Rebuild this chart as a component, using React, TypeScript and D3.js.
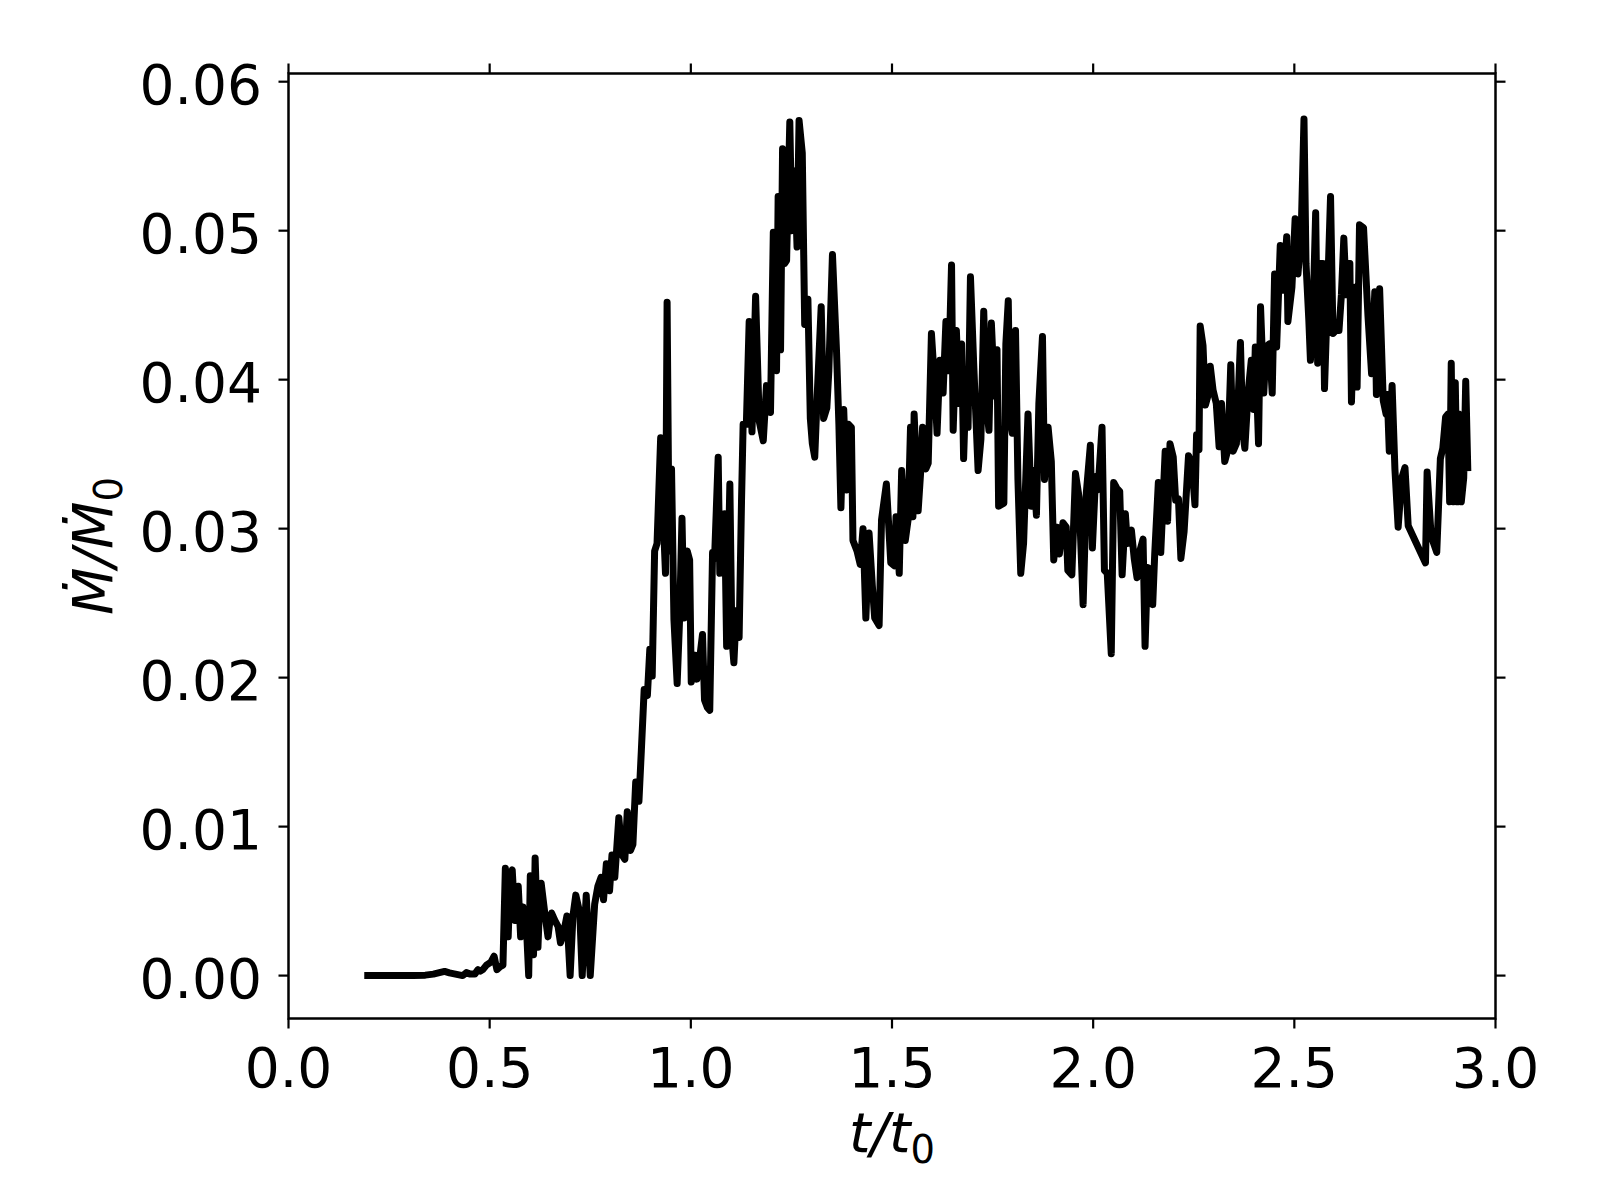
import React from "react";
import * as d3 from "d3";

// time t/t0
const T: number[] = [
  0.197, 0.22, 0.25, 0.28, 0.31, 0.34, 0.36, 0.375, 0.388, 0.40, 0.415, 0.433, 0.442, 0.452, 0.463, 0.471,
  0.477, 0.483, 0.492, 0.503, 0.511, 0.518, 0.526, 0.533, 0.539, 0.546, 0.551, 0.556, 0.563, 0.567, 0.571,
  0.577, 0.583, 0.592, 0.597, 0.601, 0.605, 0.609, 0.613, 0.620, 0.624, 0.628, 0.637, 0.645, 0.650, 0.654,
  0.662, 0.670, 0.676, 0.684, 0.692, 0.700, 0.707, 0.714, 0.724, 0.730, 0.740, 0.750, 0.761, 0.769, 0.777,
  0.783, 0.790, 0.798, 0.804, 0.811, 0.821, 0.829, 0.836, 0.842, 0.850, 0.856, 0.863, 0.871, 0.877, 0.884,
  0.892, 0.898, 0.904, 0.910, 0.916, 0.925, 0.931, 0.937, 0.941, 0.946, 0.952, 0.958, 0.966, 0.972, 0.978,
  0.983, 0.991, 0.997, 1.001, 1.010, 1.015, 1.022, 1.029, 1.034, 1.041, 1.047, 1.054, 1.059, 1.068, 1.072,
  1.080, 1.084, 1.089, 1.097, 1.102, 1.107, 1.113, 1.120, 1.126, 1.130, 1.138, 1.145, 1.152, 1.161, 1.170,
  1.180, 1.188, 1.198, 1.205, 1.213, 1.217, 1.223, 1.228, 1.233, 1.238, 1.246, 1.251, 1.258, 1.264, 1.269,
  1.277, 1.283, 1.291, 1.297, 1.302, 1.308, 1.314, 1.324, 1.330, 1.338, 1.343, 1.352, 1.362, 1.368, 1.373,
  1.380, 1.387, 1.392, 1.399, 1.403, 1.413, 1.421, 1.428, 1.435, 1.443, 1.451, 1.457, 1.468, 1.474, 1.486,
  1.497, 1.506, 1.510, 1.518, 1.524, 1.533, 1.540, 1.546, 1.552, 1.555, 1.565, 1.571, 1.576, 1.584, 1.590,
  1.598, 1.606, 1.612, 1.619, 1.627, 1.634, 1.641, 1.648, 1.652, 1.660, 1.667, 1.673, 1.678, 1.685, 1.689,
  1.695, 1.703, 1.714, 1.721, 1.728, 1.735, 1.741, 1.747, 1.755, 1.761, 1.765, 1.778, 1.783, 1.789, 1.793,
  1.799, 1.807, 1.813, 1.820, 1.827, 1.838, 1.846, 1.852, 1.859, 1.865, 1.874, 1.879, 1.888, 1.896, 1.902,
  1.910, 1.916, 1.925, 1.933, 1.937, 1.947, 1.956, 1.965, 1.975, 1.983, 1.993, 1.998, 2.006, 2.012, 2.022,
  2.028, 2.035, 2.045, 2.051, 2.059, 2.066, 2.072, 2.080, 2.085, 2.095, 2.102, 2.109, 2.116, 2.124, 2.129,
  2.135, 2.143, 2.148, 2.153, 2.162, 2.168, 2.179, 2.185, 2.191, 2.199, 2.205, 2.212, 2.218, 2.226, 2.237,
  2.245, 2.253, 2.257, 2.263, 2.266, 2.273, 2.279, 2.285, 2.291, 2.298, 2.306, 2.313, 2.319, 2.327, 2.335,
  2.342, 2.348, 2.356, 2.366, 2.372, 2.377, 2.385, 2.393, 2.399, 2.403, 2.411, 2.416, 2.424, 2.430, 2.438,
  2.445, 2.451, 2.456, 2.465, 2.473, 2.481, 2.484, 2.494, 2.502, 2.509, 2.517, 2.524, 2.529, 2.536, 2.540,
  2.546, 2.553, 2.558, 2.564, 2.571, 2.575, 2.582, 2.590, 2.596, 2.603, 2.611, 2.617, 2.623, 2.629, 2.638,
  2.642, 2.650, 2.656, 2.662, 2.672, 2.683, 2.692, 2.700, 2.704, 2.712, 2.721, 2.728, 2.731, 2.736, 2.743,
  2.750, 2.758, 2.767, 2.775, 2.783, 2.826, 2.830, 2.840, 2.854, 2.863, 2.869, 2.876, 2.882, 2.886, 2.890,
  2.894, 2.900, 2.905, 2.909, 2.915, 2.921, 2.926, 2.931,
];

// accretion rate Mdot/Mdot0
const MDOT: number[] = [
  0, 0, 0, 0, 0, 0.00003, 0.0001, 0.0002, 0.00028, 0.00018, 0.0001, 0.0, 0.0002, 0.0001, 0.0001, 0.0004,
  0.0003, 0.0004, 0.0007, 0.0009, 0.0013, 0.0004, 0.0006, 0.0007, 0.0072, 0.0026, 0.0066, 0.0071, 0.0037, 0.0052, 0.006,
  0.0026, 0.0046, 0.0029, 0.0, 0.0067, 0.004, 0.0014, 0.0079, 0.0019, 0.0048, 0.0062, 0.0042, 0.0026, 0.0037, 0.0042,
  0.0037, 0.0033, 0.0022, 0.0029, 0.004, 0.0, 0.004, 0.0054, 0.0042, 0.0, 0.0054, 0.0, 0.0048, 0.006, 0.0066,
  0.0051, 0.0075, 0.0057, 0.0081, 0.0066, 0.0106, 0.0081, 0.0078, 0.011, 0.0084, 0.0088, 0.013, 0.0117, 0.0151, 0.0192,
  0.0188, 0.0219, 0.0201, 0.0285, 0.029, 0.0361, 0.031, 0.027, 0.0452, 0.0285, 0.034, 0.0239, 0.0196, 0.0239, 0.0307,
  0.024, 0.0285, 0.0279, 0.0197, 0.0215, 0.0199, 0.0213, 0.0229, 0.0185, 0.018, 0.0178, 0.0284, 0.028, 0.0348, 0.027,
  0.028, 0.031, 0.0221, 0.033, 0.0227, 0.021, 0.0245, 0.0227, 0.0319, 0.037, 0.037, 0.0439, 0.0365, 0.0456, 0.0372,
  0.0359, 0.0396, 0.0378, 0.0499, 0.0406, 0.0523, 0.042, 0.0555, 0.0478, 0.048, 0.0573, 0.05, 0.054, 0.0489, 0.0574,
  0.0552, 0.0437, 0.0454, 0.0374, 0.0357, 0.0348, 0.0389, 0.0449, 0.0374, 0.0381, 0.0406, 0.0484, 0.042, 0.037, 0.0314,
  0.038, 0.0326, 0.037, 0.0368, 0.0292, 0.0285, 0.0276, 0.03, 0.024, 0.0297, 0.0262, 0.024, 0.0235, 0.0306, 0.033,
  0.0277, 0.0275, 0.0308, 0.027, 0.0339, 0.0292, 0.0306, 0.0368, 0.0308, 0.0377, 0.0312, 0.0337, 0.0368, 0.034, 0.0344,
  0.0431, 0.0397, 0.0364, 0.0413, 0.0391, 0.0439, 0.0406, 0.0477, 0.0366, 0.0433, 0.0384, 0.0424, 0.0347, 0.0406, 0.0368,
  0.0469, 0.0411, 0.0339, 0.036, 0.0446, 0.0382, 0.0366, 0.0438, 0.0389, 0.042, 0.0315, 0.0317, 0.0424, 0.0453, 0.0375,
  0.0364, 0.0433, 0.0333, 0.027, 0.029, 0.0377, 0.0315, 0.0339, 0.0309, 0.0384, 0.0429, 0.0333, 0.0368, 0.0345, 0.0279,
  0.0301, 0.0283, 0.0304, 0.0301, 0.0272, 0.0269, 0.0337, 0.0321, 0.0249, 0.0324, 0.0356, 0.0287, 0.0335, 0.0326, 0.0368,
  0.0272, 0.027, 0.0216, 0.0331, 0.0327, 0.0325, 0.0269, 0.031, 0.029, 0.0299, 0.028, 0.0267, 0.0285, 0.0293, 0.0221,
  0.0274, 0.0272, 0.0249, 0.0283, 0.0331, 0.0284, 0.0352, 0.0305, 0.0357, 0.0348, 0.0319, 0.032, 0.028, 0.0298, 0.0349,
  0.0344, 0.0316, 0.0363, 0.0353, 0.0436, 0.0423, 0.0383, 0.0389, 0.0409, 0.0393, 0.0384, 0.0355, 0.0384, 0.0345, 0.0353,
  0.041, 0.0352, 0.0357, 0.0425, 0.0364, 0.0354, 0.0391, 0.0413, 0.038, 0.0422, 0.0357, 0.0449, 0.0391, 0.0422, 0.0424,
  0.0391, 0.0471, 0.0422, 0.049, 0.046, 0.0496, 0.0439, 0.0462, 0.0508, 0.0471, 0.0498, 0.0575, 0.0478, 0.044, 0.0413,
  0.044, 0.0512, 0.0411, 0.0478, 0.0478, 0.0394, 0.0453, 0.0523, 0.0431, 0.0433, 0.0433, 0.0457, 0.0495, 0.0457, 0.0478,
  0.0385, 0.0462, 0.0395, 0.0504, 0.0502, 0.0443, 0.0404, 0.0459, 0.039, 0.0461, 0.0386, 0.0377, 0.039, 0.0352, 0.0396,
  0.034, 0.0301, 0.0334, 0.0341, 0.0302, 0.0277, 0.0338, 0.0295, 0.0284, 0.0347, 0.0354, 0.0375, 0.0377, 0.0318, 0.0411,
  0.0318, 0.0398, 0.0318, 0.0377, 0.0318, 0.0334, 0.0399, 0.0341,
];

const X_TICKS: number[] = [0, 0.5, 1.0, 1.5, 2.0, 2.5, 3.0];
const Y_TICKS: number[] = [0, 0.01, 0.02, 0.03, 0.04, 0.05, 0.06];
const X_DOMAIN: [number, number] = [0, 3];
const Y_DOMAIN: [number, number] = [-0.00288, 0.06055];

const W = 1600;
const H = 1200;
const LEFT = 288.5;
const RIGHT = 1495.5;
const TOP = 73.5;
const BOTTOM = 1018.5;
const FONT = "'DejaVu Sans', sans-serif";
const FS = 55;
const TICK = 10;

export default function App() {
  const x = d3.scaleLinear().domain(X_DOMAIN).range([LEFT, RIGHT]);
  const y = d3.scaleLinear().domain(Y_DOMAIN).range([BOTTOM, TOP]);
  const pts: [number, number][] = T.map((t, i) => [t, MDOT[i]]);
  const line = d3
    .line<[number, number]>()
    .x((d) => x(d[0]))
    .y((d) => y(d[1]));

  return (
    <svg
      width={W}
      height={H}
      style={{ position: "absolute", left: 0, top: 0, background: "#fff" }}
      fontFamily={FONT}
    >
      <rect x={0} y={0} width={W} height={H} fill="#fff" />
      <defs>
        <clipPath id="plotclip">
          <rect x={LEFT} y={TOP} width={RIGHT - LEFT} height={BOTTOM - TOP} />
        </clipPath>
      </defs>
      <path
        d={line(pts) || ""}
        fill="none"
        stroke="#000"
        strokeWidth={7}
        strokeLinejoin="round"
        strokeLinecap="square"
        clipPath="url(#plotclip)"
      />
      {/* spines */}
      <rect
        x={LEFT}
        y={TOP}
        width={RIGHT - LEFT}
        height={BOTTOM - TOP}
        fill="none"
        stroke="#000"
        strokeWidth={2.5}
      />
      {/* x ticks */}
      {X_TICKS.map((v) => (
        <g key={"xt" + v}>
          <line x1={x(v)} x2={x(v)} y1={BOTTOM} y2={BOTTOM + TICK} stroke="#000" strokeWidth={2.2} />
          <line x1={x(v)} x2={x(v)} y1={TOP} y2={TOP - TICK} stroke="#000" strokeWidth={2.2} />
          <text x={x(v)} y={1087} fontSize={FS} textAnchor="middle" fill="#000">
            {v.toFixed(1)}
          </text>
        </g>
      ))}
      {/* y ticks */}
      {Y_TICKS.map((v) => (
        <g key={"yt" + v}>
          <line x1={LEFT} x2={LEFT - TICK} y1={y(v)} y2={y(v)} stroke="#000" strokeWidth={2.2} />
          <line x1={RIGHT} x2={RIGHT + TICK} y1={y(v)} y2={y(v)} stroke="#000" strokeWidth={2.2} />
          <text x={262} y={y(v) + 22.5} fontSize={FS} textAnchor="end" fill="#000">
            {v.toFixed(2)}
          </text>
        </g>
      ))}
      {/* x label */}
      <text x={(LEFT + RIGHT) / 2} y={1151.5} fontSize={FS} textAnchor="middle" fill="#000">
        <tspan fontStyle="italic">t</tspan>
        <tspan fontStyle="italic">/</tspan>
        <tspan fontStyle="italic">t</tspan>
        <tspan fontSize={38.5} dy={11}>0</tspan>
      </text>
      {/* y label */}
      <text
        transform={`translate(111.5, ${(TOP + BOTTOM) / 2}) rotate(-90)`}
        fontSize={FS}
        textAnchor="middle"
        fill="#000"
      >
        <tspan fontStyle="italic">Ṁ</tspan>
        <tspan fontStyle="italic">/</tspan>
        <tspan fontStyle="italic">Ṁ</tspan>
        <tspan fontSize={38.5} dy={10}>0</tspan>
      </text>
    </svg>
  );
}
